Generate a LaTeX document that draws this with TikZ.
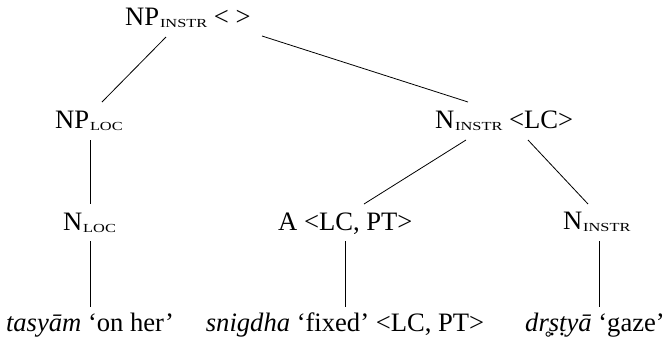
\documentclass[tikz,border=0pt]{standalone}
\usepackage{fontspec}
\setmainfont{Liberation Serif}
\usetikzlibrary{calc}
\newcommand{\sbs}[1]{\kern0.8pt\raisebox{-2.5pt}{\scalebox{1.33}[1]{\fontsize{12.3}{14}\selectfont #1}}}
\begin{document}
\begin{tikzpicture}[x=1pt,y=-1pt,
  lbl/.style={inner sep=0pt, font=\fontsize{26.6}{30}\selectfont},
  edge/.style={line width=0.8pt}]
\useasboundingbox (0,0) rectangle (667,341);
\node[lbl, anchor=base west] (np) at (125,25) {NP\sbs{INSTR} < >};
\node[lbl, anchor=base west] (nploc) at (55,128) {NP\sbs{LOC}};
\node[lbl, anchor=base west] (ninstrlc) at (435,128) {N\sbs{INSTR} <LC>};
\node[lbl, anchor=base west] (nloc) at (63,230) {N\sbs{LOC}};
\node[lbl, anchor=base west] (a) at (278,230) {A <LC, PT>};
\node[lbl, anchor=base west] (ninstr) at (563,229) {N\sbs{INSTR}};
\node[lbl, anchor=base] (tasyam) at (90,331) {\textit{tasyām} ‘on her’};
\node[lbl, anchor=base] (snigdha) at (345,331) {\textit{snigdha} ‘fixed’ <LC, PT>};
\node[lbl, anchor=base east] (drstya) at (665,331) {\textit{dr̥ṣṭyā} ‘gaze’};
\draw[edge] ($(np.base west)+(41,12)$) -- ($(nploc.base west)+(47,-26)$);
\draw[edge] ($(np.base west)+(137,11)$) -- ($(ninstrlc.base west)+(33,-26)$);
\draw[edge] ($(nploc.base west)+(35,12)$) -- ($(nloc.base west)+(27,-26)$);
\draw[edge] ($(ninstrlc.base west)+(31,12)$) -- ($(a.base west)+(86,-26)$);
\draw[edge] ($(ninstrlc.base west)+(93,12)$) -- ($(ninstr.base west)+(25,-25)$);
\draw[edge] ($(nloc.base west)+(27,11)$) -- ($(tasyam.base)+(0,-24)$);
\draw[edge] ($(a.base west)+(67,11)$) -- ($(snigdha.base)+(0,-24)$);
\coordinate (d1) at ($(ninstr.base west)+(36,12)$);
\coordinate (d2) at ($(drstya.base)+(0,-24)$);
\draw[edge] (d1) -- (d1 |- d2);
\end{tikzpicture}
\end{document}
